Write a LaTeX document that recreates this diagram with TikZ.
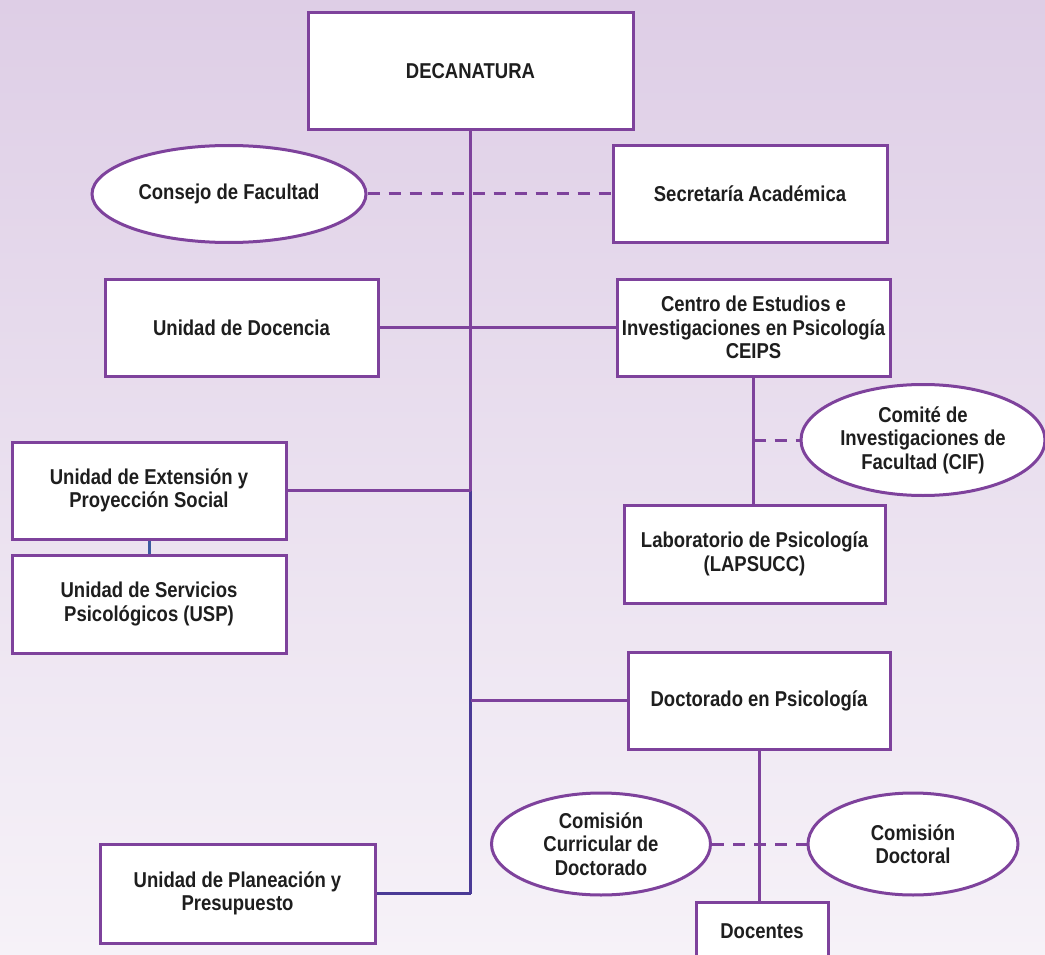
\documentclass[tikz,border=0pt]{standalone}
\usepackage{fontspec}
\setmainfont[FakeStretch=0.86]{Liberation Sans}
\usepackage{tikz}
\usetikzlibrary{shapes.geometric,positioning}

\definecolor{lila}{RGB}{126,66,156}
\definecolor{darklila}{RGB}{74,58,150}
\definecolor{linkblue}{RGB}{60,90,160}
\definecolor{bgtop}{RGB}{222,206,230}
\definecolor{bgbot}{RGB}{246,242,248}
\definecolor{ink}{RGB}{30,30,30}

\begin{document}
\begin{tikzpicture}[x=1pt,y=-1pt,line width=3pt]
\tikzstyle{unit node}=[rectangle,draw=lila,fill=white,inner sep=2,align=center,text=ink,
  font=\fontsize{21.5}{23.5}\selectfont\bfseries]
\tikzstyle{board node}=[ellipse,draw=lila,fill=white,inner sep=0,align=center,text=ink,
  font=\fontsize{21.5}{23.5}\selectfont\bfseries]

\tikzset{
	link/.style={draw=lila},
	dark link/.style={draw=darklila},
	dash link/.style={draw=lila,dash pattern=on 12pt off 9pt},
	blue link/.style={draw=linkblue}
}

      \clip (0,0) rectangle (1045,955);
      \shade[top color=bgtop,bottom color=bgbot] (0,0) rectangle (1045,955);

      \node[unit node,minimum width=325,minimum height=117] (dec) at (470.5,71.5) {DECANATURA};
      \node[board node,minimum width=274,minimum height=97] (consejo) at (229,194) {Consejo de Facultad};
      \node[unit node,minimum width=274,minimum height=96] (secre) at (750,194) {Secretaría Académica};
      \node[unit node,minimum width=273,minimum height=97] (docencia) at (241.5,327.5) {Unidad de Docencia};
      \node[unit node,minimum width=273,minimum height=97] (ceips) at (753.5,327.5)
        {Centro de Estudios e\\Investigaciones en Psicología\\CEIPS};
      \node[board node,minimum width=244,minimum height=111] (comite) at (923,440)
        {Comité de\\Investigaciones de\\Facultad (CIF)};
      \node[unit node,minimum width=261,minimum height=98] (lab) at (754.5,554)
        {Laboratorio de Psicología\\(LAPSUCC)};
      \node[unit node,minimum width=274,minimum height=97] (ext) at (149,490.5)
        {Unidad de Extensión y\\Proyección Social};
      \node[unit node,minimum width=274,minimum height=98] (usp) at (149,604)
        {Unidad de Servicios\\Psicológicos (USP)};
      \node[unit node,minimum width=262,minimum height=97] (doct) at (759,700.5) {Doctorado en Psicología};
      \node[board node,minimum width=219,minimum height=102] (curr) at (601,844)
        {Comisión\\Curricular de\\Doctorado};
      \node[board node,minimum width=210,minimum height=102] (dctl) at (913,844) {Comisión\\Doctoral};
      \node[unit node,minimum width=132,minimum height=58] (docentes) at (762,931) {Docentes};
      \node[unit node,minimum width=275,minimum height=99] (plan) at (237.5,893.5)
        {Unidad de Planeación y\\Presupuesto};

    % main trunk
    \path[link] (dec.south) edge (dec.south |- ext.east);
    \path[dark link] (dec.south |- ext.east) edge (dec.south |- plan.east);
    \path[dark link] (dec.south |- plan.east) edge (plan.east);

    \path[dash link] (consejo.east) edge (secre.west);
    \path[link] (docencia.east) edge (ceips.west);
    \path[link] (ext.east) edge (dec.south |- ext.east);
    \path[blue link] (ext.south) edge (usp.north);
    \path[link] (dec.south |- doct.west) edge (doct.west);

    \path[link] (ceips.south) edge (ceips.south |- lab.north);
    \path[dash link] (ceips.south |- comite.west) edge (comite.west);

    \path[link] (doct.south) edge (doct.south |- docentes.north);
    \path[dash link] (curr.east) edge (dctl.west);
;
\end{tikzpicture}
\end{document}
